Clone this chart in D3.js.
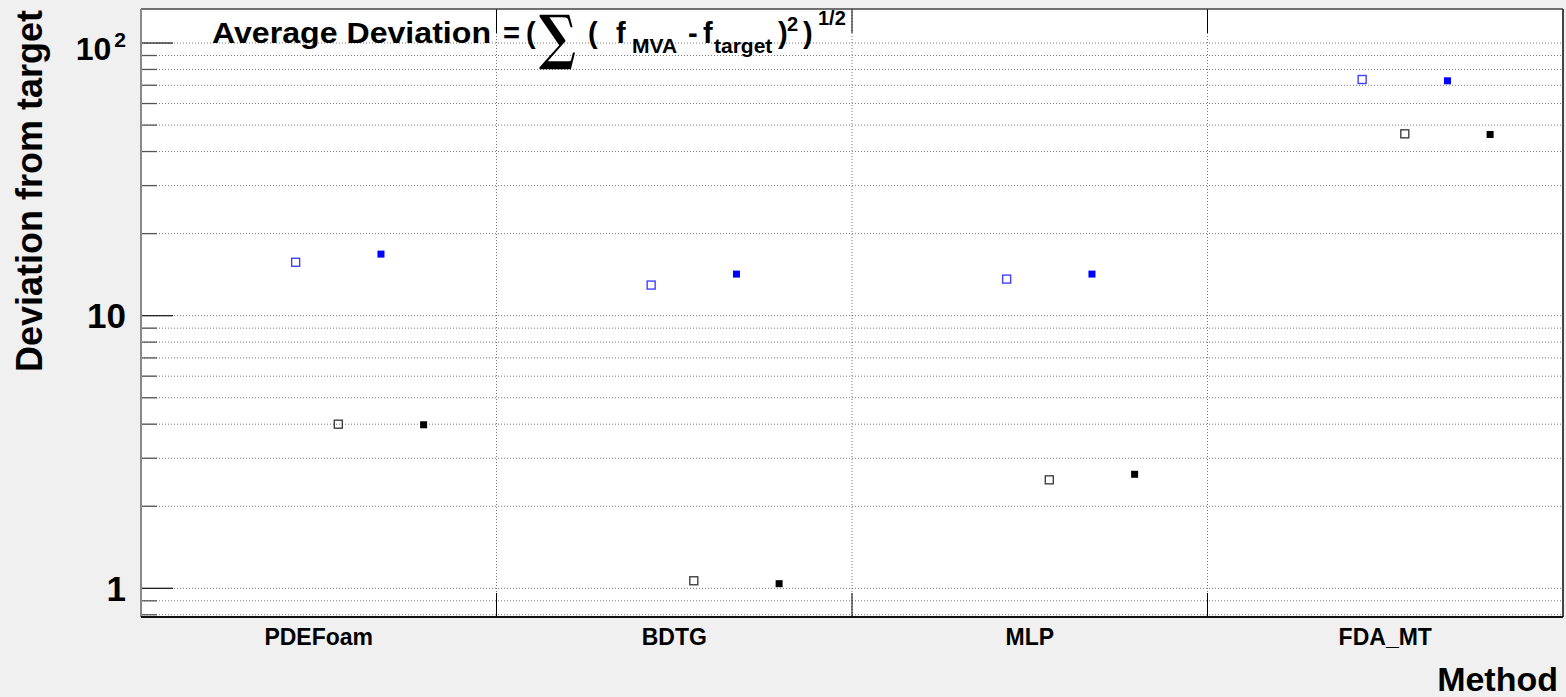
<!DOCTYPE html>
<html lang="en">
<head>
  <meta charset="UTF-8">
  <title>Average Deviation</title>
  <style>
    body { margin: 0; background: #f0f0f0; }
    text { font-family: "Liberation Sans", Arial, Helvetica, sans-serif; font-weight: bold; fill: #000; }
  </style>
</head>
<body>
  <script src="https://d3js.org/d3.v7.min.js"></script>
  <div id="chart"></div>
  <script>
    // categories and values
    var methods = ["PDEFoam", "BDTG", "MLP", "FDA_MT"];
    var avgTest = [15.7, 12.95, 13.62, 73.5];    // blue, open
    var truncTest = [4.0, 1.066, 2.50, 46.45];   // black, open
    var avgTrain = [16.82, 14.21, 14.21, 72.7];  // blue, filled
    var truncTrain = [3.98, 1.04, 2.62, 46.2];   // black, filled
    var yDomain = [0.785, 133.3];

    var W = 1566, H = 697;
    var margin = { top: 9, right: 3, bottom: 80, left: 141 };
    var width = W - margin.left - margin.right,
      height = H - margin.top - margin.bottom;

    var svg = d3.select("#chart").append("svg")
      .attr("width", W).attr("height", H);

    var g = svg.append("g")
      .attr("transform", "translate(" + margin.left + "," + margin.top + ")");

    // frame
    g.append("rect").attr("width", width).attr("height", height).attr("fill", "#fff");

    var x = d3.scaleBand().domain(methods).range([0, width]).padding(0);
    var y = d3.scaleLog().domain(yDomain).range([height, 0]);

    // each series sits at its own offset inside a bin
    var series = [
      { values: avgTest, color: "#0000ff", filled: false },
      { values: truncTest, color: "#000", filled: false },
      { values: avgTrain, color: "#0000ff", filled: true },
      { values: truncTrain, color: "#000", filled: true }
    ];
    var offset = d3.scaleLinear().domain([0, series.length - 1]).range([0.435, 0.795]);

    var yTicks = y.ticks();
    var isMajor = function (d) { return Math.abs(Math.log10(d) - Math.round(Math.log10(d))) < 1e-9; };

    // horizontal grid
    g.selectAll(".hgrid").data(yTicks).enter().append("line")
      .attr("x1", 0).attr("x2", width)
      .attr("y1", d => y(d)).attr("y2", d => y(d))
      .attr("stroke", "#777").attr("stroke-width", 1).attr("stroke-dasharray", "1,2");

    // vertical grid at bin edges
    var edges = methods.slice(1);
    g.selectAll(".vgrid").data(edges).enter().append("line")
      .attr("x1", d => x(d)).attr("x2", d => x(d))
      .attr("y1", 0).attr("y2", height)
      .attr("stroke", "#777").attr("stroke-width", 1).attr("stroke-dasharray", "1,2");

    // x ticks top and bottom
    edges.forEach(function (d) {
      g.append("line").attr("x1", x(d)).attr("x2", x(d)).attr("y1", height).attr("y2", height - 24)
        .attr("stroke", "#000").attr("stroke-width", 1);
      g.append("line").attr("x1", x(d)).attr("x2", x(d)).attr("y1", 0).attr("y2", 24)
        .attr("stroke", "#000").attr("stroke-width", 1);
    });

    // y ticks
    g.selectAll(".ytick").data(yTicks).enter().append("line")
      .attr("x1", 0).attr("x2", d => isMajor(d) ? 32 : 16)
      .attr("y1", d => y(d)).attr("y2", d => y(d))
      .attr("stroke", d => isMajor(d) ? "#222" : "#555").attr("stroke-width", 1.3);

    // frame borders
    g.append("line").attr("x1", 0).attr("x2", width).attr("y1", 0).attr("y2", 0)
      .attr("stroke", "#444").attr("stroke-width", 1.5);
    g.append("line").attr("x1", width).attr("x2", width).attr("y1", 0).attr("y2", height)
      .attr("stroke", "#444").attr("stroke-width", 2);
    g.append("line").attr("x1", 0).attr("x2", 0).attr("y1", 0).attr("y2", height)
      .attr("stroke", "#888").attr("stroke-width", 2);
    g.append("line").attr("x1", 0).attr("x2", width).attr("y1", height).attr("y2", height)
      .attr("stroke", "#111").attr("stroke-width", 2);

    // y tick labels
    yTicks.filter(isMajor).forEach(function (d) {
      var e = Math.round(Math.log10(d));
      if (e < 2) {
        g.append("text").attr("x", -15).attr("y", y(d)).attr("dy", "0.36em")
          .attr("text-anchor", "end").style("font-size", "35px")
          .text(e === 0 ? "1" : "10");
      } else {
        var t = g.append("text").attr("x", -15).attr("y", y(d) + 17)
          .attr("text-anchor", "end");
        t.append("tspan").style("font-size", "32px").text("10");
        t.append("tspan").style("font-size", "21px").attr("dx", 3).attr("dy", -13).text(e);
      }
    });

    // x tick labels
    g.selectAll(".xlab").data(methods).enter().append("text")
      .attr("x", d => x(d) + x.bandwidth() / 2).attr("y", height + 28)
      .attr("text-anchor", "middle").style("font-size", "23px")
      .text(d => d);

    // markers
    series.forEach(function (s, i) {
      var size = s.filled ? 7 : 8;
      g.selectAll(".m" + i).data(methods).enter().append("rect")
        .attr("x", (d, j) => x(d) + offset(i) * x.bandwidth() - size / 2)
        .attr("y", (d, j) => y(s.values[j]) - size / 2)
        .attr("width", size).attr("height", size)
        .attr("fill", s.filled ? s.color : "none")
        .attr("stroke", s.filled ? "none" : s.color)
        .attr("stroke-width", s.filled ? 0 : 1.4)
        .attr("stroke-opacity", 0.75);
    });

    // axis titles
    svg.append("text").attr("x", W - 8).attr("y", 691)
      .attr("text-anchor", "end").style("font-size", "34px").text("Method");
    svg.append("text").attr("transform", "translate(42," + (margin.top + 1) + ") rotate(-90)")
      .attr("text-anchor", "end").style("font-size", "36px").text("Deviation from target");

    // title formula
    var tt = svg.append("g").attr("class", "title");
    function piece(str, px, py, size, fam) {
      var t = tt.append("text").attr("x", px).attr("y", py).style("font-size", size + "px").text(str);
      if (fam) t.style("font-family", fam);
      return t;
    }
    piece("Average Deviation", 212, 43, 29).attr("textLength", 279).attr("lengthAdjust", "spacingAndGlyphs");
    piece("=", 503, 43, 29);
    piece("(", 526, 43, 29);
    piece("\u2211", 0, 0, 60, "DejaVu Serif")
      .attr("transform", "translate(539,58) scale(0.82,1)");
    piece("(", 588, 43, 29);
    piece("f", 616, 43, 29);
    piece("MVA", 632, 53, 21);
    piece("-", 688, 43, 29);
    piece("f", 703, 43, 29);
    piece("target", 714, 53, 21);
    piece(")", 778, 43, 29);
    piece("2", 787, 31, 20);
    piece(")", 803, 43, 29);
    piece("1/2", 818, 25, 20);
  </script>
</body>
</html>
